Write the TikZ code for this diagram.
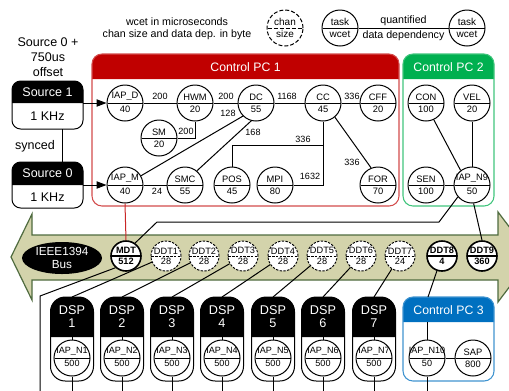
\documentclass[tikz,border=0pt]{standalone}
\usepackage{fontspec}
\setmainfont{Liberation Sans}
\usetikzlibrary{shapes.multipart,shapes.geometric,arrows.meta,calc}
\definecolor{pcA}{HTML}{C00000}
\definecolor{pcB}{HTML}{00B050}
\definecolor{pcC}{HTML}{0070C0}
\definecolor{busfill}{HTML}{D3D3AB}
\definecolor{busline}{HTML}{4F6B3F}
\newcommand\fsz[2]{\fontsize{#1}{#2}\selectfont}
\newcommand\tv[2]{\makebox[0pt]{#1}\nodepart{lower}\makebox[0pt]{#2}}
\newcommand\pcbox[7]{%
  \fill[#6] (#1,#4) [rounded corners=7.5pt] -- (#1,#2) -- (#3,#2) [sharp corners] -- (#3,#4) -- cycle;
  \draw[#7, line width=0.8pt, rounded corners=7.5pt] (#1,#2) rectangle (#3,#5);
}
\tikzset{
  conn/.style={line width=0.75pt},
  task/.style={circle split, draw, line width=0.75pt, minimum size=27pt, inner sep=1.6pt, fill=white, font=\fsz{7}{8}},
  legtask/.style={task, font=\fsz{7.5}{8.5}},
  legchan/.style={legtask, dash pattern=on 3pt off 1.5pt},
  chanbase/.style={circle split, draw, minimum size=22.5pt, inner sep=1.1pt, fill=white, font=\fsz{6.9}{7.5}},
  chanmain/.style={chanbase, line width=1.2pt, font=\fsz{6.9}{7.5}\bfseries},
  chandash/.style={chanbase, line width=0.7pt, dash pattern=on 1.8pt off 1pt},
  elab/.style={font=\fsz{6.8}{8}, inner sep=0.5pt},
  hdr/.style={text=white, font=\fsz{9.2}{11}, inner sep=0pt},
  srctxt/.style={font=\fsz{9.4}{11.3}, inner sep=0pt, align=center},
}
\begin{document}
\begin{tikzpicture}[x=0.75pt,y=-0.75pt]
\useasboundingbox (0,0) rectangle (509,390);
\clip (0,0) rectangle (509,390);

% ---------- legend ----------
\node[font=\fsz{8}{9}, align=center, inner sep=0pt] (leg) at (177,29) {wcet in microseconds\\chan size and data dep. in byte};
\node[legchan] (lc) at (285,28) {\tv{chan}{size}};
\node[legtask] (lt1) at (340,28) {\tv{task}{wcet}};
\node[legtask] (lt2) at (467,28) {\tv{task}{wcet}};
\draw[conn] (lt1.east) -- node[above, font=\fsz{8}{9}, inner sep=1.5pt] (lq) {quantified}
  node[below, font=\fsz{8}{9}, inner sep=1.5pt] (ld) {data dependency} (lt2.west);

% ---------- sources ----------
\node[srctxt] (offs) at (48,57) {Source 0 +\\750us\\offset};
\fill (12,103) [rounded corners=6.5pt] -- (12,81) -- (83,81) [sharp corners] -- (83,103) -- cycle;
\draw[conn, rounded corners=6.5pt] (12,81) rectangle (83,129);
\node[srctxt, text=white] (s1) at (47.5,92) {Source 1};
\node[srctxt] (s1f) at (47.5,116) {1 KHz};
\fill (12,185) [rounded corners=6.5pt] -- (12,162) -- (83,162) [sharp corners] -- (83,185) -- cycle;
\draw[conn, rounded corners=6.5pt] (12,162) rectangle (83,208);
\node[srctxt, text=white] (s0) at (47.5,173) {Source 0};
\node[srctxt] (s0f) at (47.5,197) {1 KHz};
\coordinate (s1out) at (83,103);
\coordinate (s0out) at (83,185);
\coordinate (s1bot) at (62,129);
\coordinate (s0top) at (62,162);
\draw[conn] (s1bot) -- (s0top);
\node[srctxt] (sync) at (35,146) {synced};

% ---------- control PC boxes ----------
\pcbox{92}{54}{399}{79}{206}{pcA}{pcA!70}
\node[hdr] (pc1) at (245.5,67) {Control PC 1};
\pcbox{403}{54}{494}{79}{206}{pcB}{pcB!75}
\node[hdr] (pc2) at (448.5,67) {Control PC 2};

% ---------- PC1 tasks ----------
\node[task] (iapd) at (125,103) {\tv{IAP\_D}{40}};
\node[task] (hwm)  at (195,103) {\tv{HWM}{20}};
\node[task] (dc)   at (256,103) {\tv{DC}{55}};
\node[task] (cc)   at (323,103) {\tv{CC}{45}};
\node[task] (cff)  at (378,103) {\tv{CFF}{20}};
\node[task] (sm)   at (159,138) {\tv{SM}{20}};
\node[task] (iapm) at (125,185) {\tv{IAP\_M}{40}};
\node[task] (smc)  at (185,185) {\tv{SMC}{55}};
\node[task] (pos)  at (232,185) {\tv{POS}{45}};
\node[task] (mpi)  at (275,185) {\tv{MPI}{80}};
\node[task] (fo)   at (378,185) {\tv{FOR}{70}};

% ---------- PC2 tasks ----------
\node[task] (con) at (426,103) {\tv{CON}{100}};
\node[task] (vel) at (472,103) {\tv{VEL}{20}};
\node[task] (sen) at (426,185) {\tv{SEN}{100}};
\node[task] (n9)  at (472,185) {\tv{IAP\_N9}{50}};

% ---------- PC1/PC2 edges ----------
\draw[conn, -{Triangle[length=7.5pt,width=5.5pt]}] (s1out) -- (iapd.west);
\draw[conn, -{Triangle[length=7.5pt,width=5.5pt]}] (s0out) -- (iapm.west);
\draw[conn] (iapd.east) -- (hwm.west);
\node[elab] (l1) at (160,96) {200};
\draw[conn] (hwm.east) -- (dc.west);
\node[elab] (l2) at (226,96) {200};
\draw[conn] (dc.east) -- (cc.west);
\node[elab] (l3) at (287,96) {1168};
\draw[conn] (cc.east) -- (cff.west);
\node[elab] (l4) at (352,96) {336};
\draw[conn] (sm.east) -| (hwm.south);
\node[elab] (l5) at (186,131) {200};
\draw[conn] (iapm.30) -- (dc.225);
\node[elab] (l6) at (228,113) {128};
\draw[conn] (smc.50) -- (dc.255);
\node[elab] (l7) at (253,132) {168};
\draw[conn] (pos.north) -- ++(0,-21) -| (cc.south);
\node[elab] (l8) at (303,139) {336};
\draw[conn] (mpi.east) -| (cc.south);
\node[elab] (l9) at (310,176) {1632};
\draw[conn] (cc.-50) -- (fo.112);
\node[elab] (l10) at (352,162) {336};
\draw[conn] (iapm.east) -- (smc.west);
\node[elab] (l11) at (157,191) {24};
\draw[conn] (con.-65) -- (n9.128);
\draw[conn] (vel.south) -- (n9.north);
\draw[conn] (sen.east) -- (n9.west);

% ---------- bus ----------
\draw[busline, fill=busfill, line width=0.9pt] (11,257) -- (32,214) -- (32,235) -- (498,235) -- (498,212)
  -- (532,257) -- (498,302) -- (498,280) -- (32,280) -- (32,300) -- cycle;
\node[ellipse, fill=black, minimum width=60pt, minimum height=24pt, inner sep=0pt, text=white,
  align=center, font=\fsz{8.8}{10}] (ieee) at (62,258) {IEEE1394\\Bus};
\node[chanmain] (mdt)  at (126,256) {\tv{MDT}{512}};
\node[chandash] (ddt1) at (166,256) {\tv{DDT1}{28}};
\node[chandash] (ddt2) at (204,256) {\tv{DDT2}{28}};
\node[chandash] (ddt3) at (243,256) {\tv{DDT3}{28}};
\node[chandash] (ddt4) at (283,256) {\tv{DDT4}{28}};
\node[chandash] (ddt5) at (322,256) {\tv{DDT5}{28}};
\node[chandash] (ddt6) at (361,256) {\tv{DDT6}{28}};
\node[chandash] (ddt7) at (400,256) {\tv{DDT7}{24}};
\node[chanmain] (ddt8) at (442,256) {\tv{DDT8}{4}};
\node[chanmain] (ddt9) at (482,256) {\tv{DDT9}{360}};

\draw[conn, pcA!85] (iapm.south) -- (mdt.north);
\coordinate (k1) at (439,222);
\coordinate (k2) at (157,222);
\draw[conn] (n9.220) -- (k1) -- (k2) -- (mdt.55);
\draw[conn] (n9.-85) -- (ddt9.north);
\coordinate (k3) at (40,296);
\coordinate (k4) at (40,395);
\draw[conn] (mdt.228) -- (k3) -- (k4);

% ---------- DSPs ----------
\foreach \i/\x in {1/72,2/122,3/172,4/222,5/273,6/323,7/374}{
  \draw[conn, rounded corners=11pt] (\x-21.5,297) rectangle (\x+21.5,381);
  \fill (\x-21.5,337) [rounded corners=11pt] -- (\x-21.5,297) -- (\x+21.5,297) [sharp corners] -- (\x+21.5,337) -- cycle;
  \node[text=white, align=center, font=\fsz{9.5}{9.8}, inner sep=0pt] (d\i) at (\x,317) {DSP\\\i};
  \node[task, font=\fsz{6.8}{8}] (n\i) at (\x,358) {\tv{IAP\_N\i}{500}};
  \coordinate (top\i) at (\x,297);
  \coordinate (hb\i) at (\x,337);
  \coordinate (out\i) at (\x,395);
  \draw[conn] (hb\i) -- (n\i.north);
  \draw[conn] (n\i.south) -- (out\i);
  \draw[conn] (ddt\i) -- (top\i);
}

% ---------- Control PC 3 ----------
\pcbox{403}{297}{494}{322}{381}{pcC}{pcC!75}
\node[hdr] (pc3) at (448.5,310) {Control PC 3};
\node[task, font=\fsz{6.8}{8}] (n10) at (427,358) {\tv{IAP\_N10}{50}};
\node[task] (sap) at (473,358) {\tv{SAP}{800}};
\coordinate (top8) at (428,297);
\coordinate (hb8) at (427,322);
\coordinate (out8) at (427,395);
\draw[conn] (ddt8) -- (top8);
\draw[conn] (hb8) -- (n10.north);
\draw[conn] (n10.east) -- (sap.west);
\draw[conn] (n10.south) -- (out8);
\end{tikzpicture}
\end{document}
